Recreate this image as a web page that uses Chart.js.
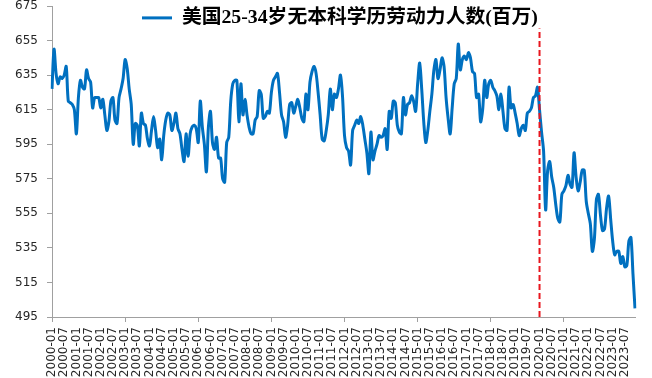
<!DOCTYPE html>
<html>
<head>
<meta charset="utf-8">
<script src="https://cdn.jsdelivr.net/npm/chart.js@4.4.0/dist/chart.umd.min.js"></script>
<style>
html,body{margin:0;padding:0;background:#fff;}
#wrap{width:652px;height:378px;position:relative;overflow:hidden;}
</style>
</head>
<body>
<div id="wrap"><canvas id="c" width="652" height="378"></canvas></div>
<script>
// ---- data ----
const seriesName = '美国25-34岁无本科学历劳动力人数(百万)';
const startYear = 2000;
const endYear = 2023;
const months = [];
for (let y = startYear; y <= endYear; y++) {
  for (let m = 1; m <= 12; m++) months.push(y + '-' + String(m).padStart(2, '0'));
}
const labelEvery = 6; // tick labels: 2000-01, 2000-07, ...
const workers = [
  627,650,636,630,634,633,635,640,620,619,618,615,
  601,622,632,628,627,638,633,631,616,622,622,622,
  616,621,612,603,608,620,622,609,607,622,627,633,
  644,639,627,618,595,607,606,594,613,607,606,598,
  594,603,611,603,593,598,586,600,609,613,612,603,
  607,613,604,601,592,585,601,588,601,605,606,604,
  596,620,605,595,579,605,614,596,592,599,587,587,
  575,573,596,599,620,630,632,632,608,630,612,621,
  612,605,601,601,609,611,626,624,610,611,614,613,
  625,632,634,636,625,612,608,599,606,618,619,613,
  617,621,616,610,608,624,615,631,637,640,636,625,
  612,598,597,603,612,627,615,624,622,627,635,623,
  600,593,591,583,603,606,609,607,611,606,598,590,
  578,602,586,591,595,600,599,600,604,592,614,610,
  620,619,606,602,601,622,612,618,619,623,620,614,
  630,642,627,608,596,603,614,624,638,644,633,638,
  645,640,622,610,601,616,630,633,653,638,644,646,
  644,648,645,637,636,622,624,608,615,632,622,630,
  632,628,626,623,615,624,614,604,603,628,616,618,
  613,607,600,604,606,603,613,614,616,622,623,628,
  615,602,591,557,580,585,576,570,560,552,550,566,
  568,571,577,572,570,590,576,568,573,580,580,562,
  555,549,533,540,563,566,554,545,546,558,565,552,
  539,531,533,533,526,530,524,525,539,541,520,500
];
const yMin = 495, yMax = 675, yStep = 20;
const markerMonth = '2020-01';
const markerRange = [495, 662];

// ---- styles ----
const blue = '#0070C0';
const axisGray = '#A0A0A0';
const tickFont = { family: "'DejaVu Sans', sans-serif", size: 12 };
const labelColor = '#262626';

const legendOverlay = {
  id: 'legendOverlay',
  beforeLayout(chart) {
    const lg = chart.legend;
    if (lg && !lg._patched) {
      const orig = lg.fit;
      lg.fit = function () { orig.call(this); this.height = 0; };
      lg._patched = true;
    }
  },
  beforeDraw(chart) {
    const lg = chart.legend;
    if (!lg) return;
    lg.left = 134; lg.top = 0; lg.right = 652; lg.bottom = 40;
    lg.width = 518; lg.height = 40;
  }
};

new Chart(document.getElementById('c'), {
  type: 'line',
  data: {
    labels: months,
    datasets: [
      {
        label: seriesName,
        data: workers,
        borderColor: blue,
        backgroundColor: blue,
        borderWidth: 3,
        pointRadius: 0,
        tension: 0.3,
        fill: false,
        order: 1
      },
      {
        label: 'marker',
        data: [{ x: markerMonth, y: markerRange[0] }, { x: markerMonth, y: markerRange[1] }],
        borderColor: '#E8161E',
        borderWidth: 2,
        borderDash: [6, 3],
        pointRadius: 0,
        fill: false,
        order: -1
      }
    ]
  },
  options: {
    responsive: false,
    animation: false,
    devicePixelRatio: 1,
    layout: { padding: { left: 0, right: 17, top: 0, bottom: 0 } },
    plugins: {
      legend: {
        display: true,
        position: 'top',
        align: 'start',
        labels: {
          usePointStyle: true,
          pointStyle: 'line',
          pointStyleWidth: 30,
          padding: 8,
          color: '#000',
          font: { family: "'Liberation Serif', 'Noto Sans CJK SC', serif", size: 19.8, weight: 'bold' },
          filter: (item) => item.datasetIndex === 0
        }
      },
      tooltip: { enabled: false }
    },
    scales: {
      x: {
        type: 'category',
        offset: false,
        grid: {
          display: true,
          drawOnChartArea: false,
          drawTicks: true,
          tickLength: 5,
          tickColor: (c) => (c.index % labelEvery === 0 ? axisGray : 'rgba(0,0,0,0)'),
          color: axisGray
        },
        border: { display: true, color: axisGray, width: 1 },
        ticks: {
          autoSkip: false,
          maxRotation: 90,
          minRotation: 90,
          padding: 5,
          color: labelColor,
          font: tickFont,
          callback: function (v, i) { return i % labelEvery === 0 ? months[i] : null; }
        },
        afterFit(s) { s.height = 61; }
      },
      y: {
        min: yMin,
        max: yMax,
        grid: {
          display: true,
          drawOnChartArea: false,
          drawTicks: true,
          tickLength: 5,
          tickColor: axisGray,
          color: axisGray
        },
        border: { display: true, color: axisGray, width: 1 },
        ticks: { stepSize: yStep, padding: 9, color: labelColor, font: tickFont },
        afterFit(s) { s.width = 52; s.paddingTop = 6; s.paddingBottom = 6; }
      }
    }
  },
  plugins: [legendOverlay]
});
</script>
</body>
</html>
